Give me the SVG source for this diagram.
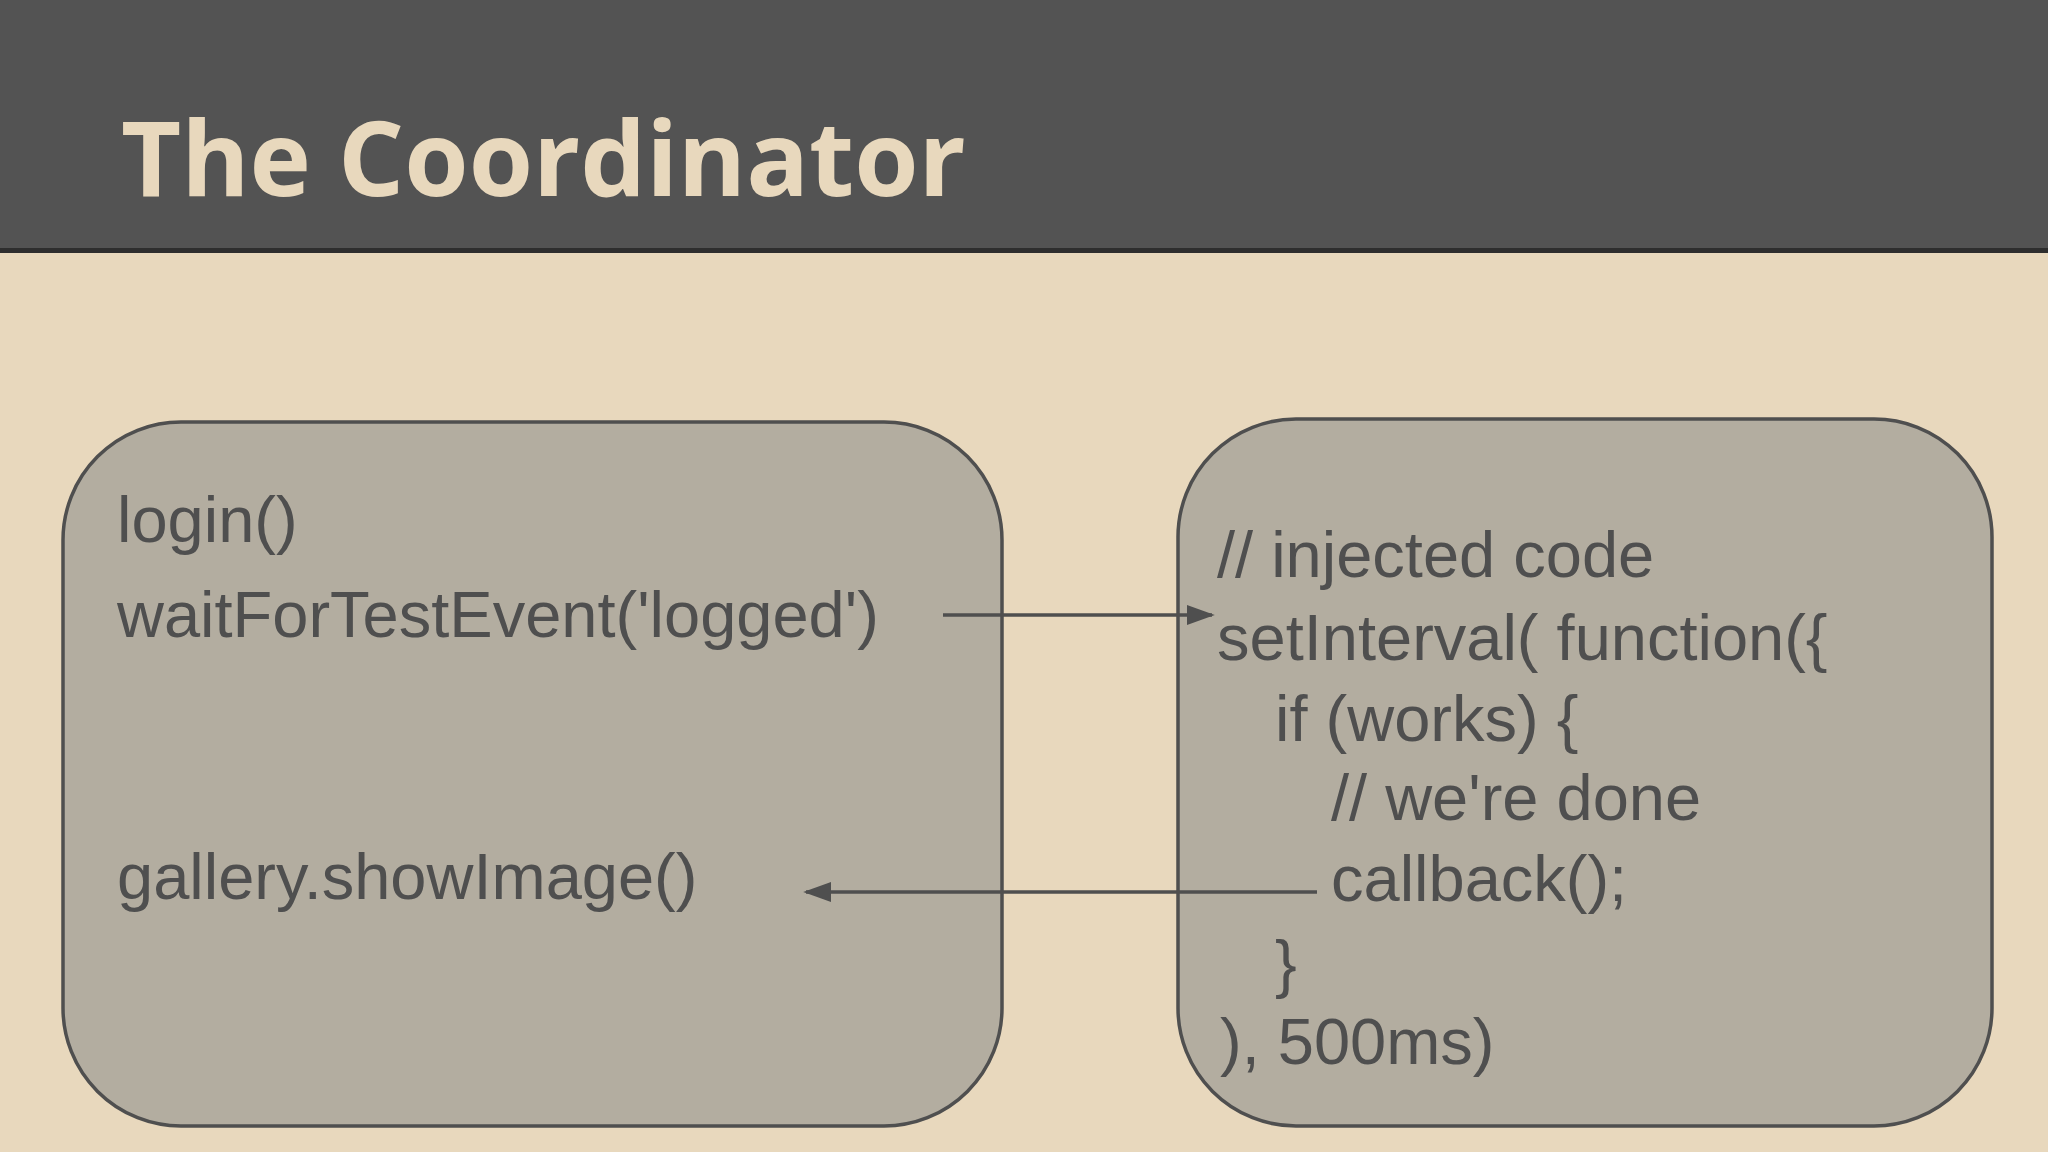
<svg xmlns="http://www.w3.org/2000/svg" width="2048" height="1152" viewBox="0 0 2048 1152">
<defs>
<style>
.t{font-family:"Liberation Sans",Arial,sans-serif;font-size:65px;fill:#4f4f4f}
.box{fill:#b3ada0;stroke:#4f4f4f;stroke-width:3.5}
.c{stroke:#4f4f4f;stroke-width:3.5;fill:none}
</style>
<marker id="ah" viewBox="0 0 10 10" refX="9" refY="5" markerWidth="8" markerHeight="8" markerUnits="userSpaceOnUse" orient="auto"><path d="M0,0L10,5L0,10z" fill="#4f4f4f"/></marker>
<marker id="a" viewBox="0 0 10 10" refX="9" refY="5" markerWidth="28" markerHeight="20" markerUnits="userSpaceOnUse" orient="auto" preserveAspectRatio="none"><path d="M0,0L10,5L0,10z" fill="#4f4f4f"/></marker>
</defs>
<rect width="2048" height="1152" fill="#e8d8bd"/>
<rect width="2048" height="248" fill="#535353"/>
<rect y="248" width="2048" height="5" fill="#2e2e2e"/>
<text x="121" y="196" font-family="'Open Sans','Liberation Sans',sans-serif" font-weight="bold" font-size="104" fill="#e8d8bd">The Coordinator</text>
<g id="left"><rect class="box" x="63" y="422" width="939" height="704" rx="118"/>
<text class="t" x="117" y="542">login()</text>
<text class="t" x="117" y="637">waitForTestEvent('logged')</text>
<text class="t" x="117" y="899">gallery.showImage()</text></g>
<g id="right"><rect class="box" x="1178" y="419" width="814" height="707" rx="118"/>
<text class="t" x="1217" y="577">// injected code</text>
<text class="t" x="1217" y="660">setInterval( function({</text>
<text class="t" x="1275" y="741">if (works) {</text>
<text class="t" x="1331" y="820">// we're done</text>
<text class="t" x="1331" y="901">callback();</text>
<text class="t" x="1275" y="986">}</text>
<text class="t" x="1220" y="1064">), 500ms)</text></g>
<g id="connectors">
<line class="c" x1="943" y1="615" x2="1212" y2="615" marker-end="url(#a)"/>
<line class="c" x1="1317" y1="892" x2="806" y2="892" marker-end="url(#a)"/>
</g>
</svg>
